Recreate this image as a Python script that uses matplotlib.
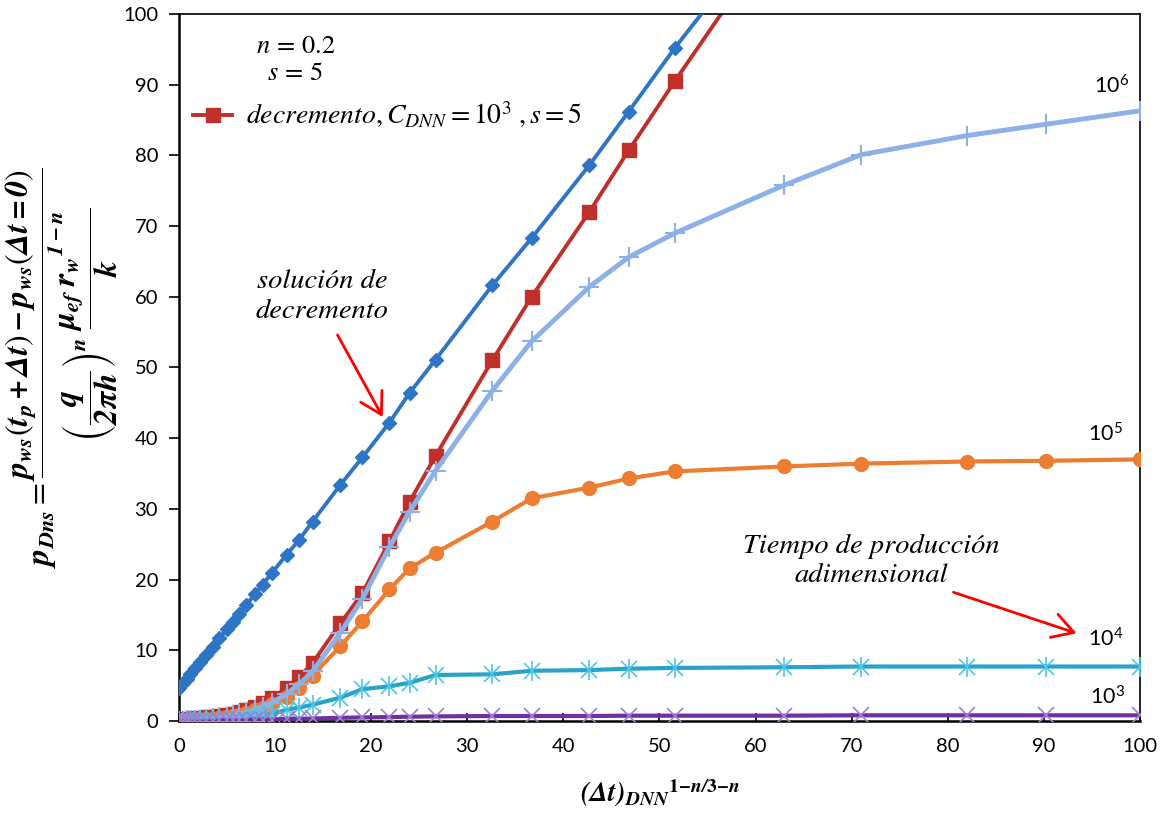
import numpy as np
import matplotlib
matplotlib.use("Agg")
import matplotlib.pyplot as plt
from matplotlib.lines import Line2D

plt.rcParams['mathtext.fontset'] = 'stix'
plt.rcParams['font.family'] = ['Lato', 'DejaVu Sans']

# dimensionless shut-in time axis
dt = [0, 0.4, 0.8, 1.2, 1.7, 2.2, 2.8, 3.5, 4.2, 5.0, 5.6, 6.3, 7.0, 7.9, 8.7, 9.7,
      11.2, 12.5, 13.9, 16.8, 19.1, 21.9, 24.0, 26.7, 32.6, 36.7, 42.7, 46.8, 51.6,
      63.0, 71.0, 82.0, 90.2, 100]

# drawdown solution
p_draw = [4.6, 5.3, 6.0, 6.6, 7.5, 8.3, 9.3, 10.5, 11.7, 13.0, 14.0, 15.2, 16.4, 17.9,
          19.3, 21.0, 23.5, 25.6, 28.2, 33.4, 37.3, 42.2, 46.4, 51.1, 61.6, 68.3, 78.6,
          86.2, 95.2, 115.0, 129.0, 148.0, 162.0, 179.0]
# drawdown, C_DNN = 1e3, s = 5
p_red = [0.1, 0.2, 0.3, 0.3, 0.4, 0.4, 0.5, 0.6, 0.7, 0.9, 1.0, 1.3, 1.6, 2.0, 2.5, 3.2,
         4.7, 6.2, 8.2, 13.8, 18.1, 25.4, 31.0, 37.5, 51.0, 60.0, 72.0, 80.7, 90.5,
         113.0, 128.0, 148.0, 163.0, 181.0]
# buildup for several producing times
p_1e6 = [0.0, 0.0, 0.1, 0.1, 0.2, 0.2, 0.3, 0.4, 0.5, 0.6, 0.8, 1.0, 1.2, 1.6, 2.0, 2.6,
         3.8, 5.2, 7.0, 12.5, 17.3, 24.6, 29.6, 35.4, 46.7, 53.7, 61.4, 65.6, 69.0,
         75.8, 80.1, 82.8, 84.4, 86.3]
p_1e5 = [0.0, 0.1, 0.1, 0.1, 0.2, 0.2, 0.3, 0.3, 0.4, 0.6, 0.7, 0.9, 1.1, 1.5, 1.9, 2.4,
         3.4, 4.7, 6.4, 10.6, 14.1, 18.6, 21.6, 23.8, 28.2, 31.5, 33.0, 34.3, 35.3,
         36.0, 36.4, 36.7, 36.8, 37.0]
p_1e4 = [0.0, 0.0, 0.0, 0.0, 0.0, 0.1, 0.1, 0.1, 0.1, 0.2, 0.2, 0.3, 0.4, 0.5, 0.7, 1.0,
         1.6, 1.9, 2.3, 3.3, 4.5, 4.9, 5.4, 6.5, 6.6, 7.1, 7.2, 7.4, 7.5,
         7.6, 7.7, 7.7, 7.7, 7.7]
p_1e3 = [0.0, 0.0, 0.0, 0.0, 0.0, 0.0, 0.0, 0.0, 0.1, 0.1, 0.1, 0.1, 0.1, 0.2, 0.2, 0.2,
         0.3, 0.3, 0.35, 0.45, 0.5, 0.55, 0.6, 0.65, 0.7, 0.7, 0.7, 0.75, 0.75,
         0.75, 0.8, 0.8, 0.8, 0.8]

fig = plt.figure(figsize=(11.65, 8.13), dpi=100)
ax = fig.add_axes([0.1536, 0.1132, 0.8249, 0.8696])

ax.plot(dt, p_red, color='#C0302B', lw=2.8, marker='s', ms=10, zorder=2)
ax.plot(dt, p_1e5, color='#ED7D31', lw=3, marker='o', ms=10, zorder=3)
ax.plot(dt, p_1e6, color='#8DB0E6', lw=3.5, marker='+', ms=14, mew=1.5, zorder=4)
ax.plot(dt, p_1e4, color='#2AA3C8', lw=3, marker='x', ms=11, mew=1.2, mec='#4CC6E6', zorder=5)
ax.plot(dt, p_1e4, ls='none', marker='|', ms=14, mew=1.2, mec='#4CC6E6', zorder=5)
ax.plot(dt, p_1e3, color='#7030A0', lw=3, marker='x', ms=12, mew=1.2, mec='#A07FD6', zorder=6)
ax.plot(dt, p_draw, color='#2E75C6', lw=2.8, marker='D', ms=7.5, zorder=7)

ax.set_xlim(0, 100)
ax.set_ylim(0, 100)
ax.set_xticks(np.arange(0, 101, 10))
ax.set_yticks(np.arange(0, 101, 10))
ax.tick_params(axis='y', direction='out', length=7, width=1.2, labelsize=14.5, pad=8)
ax.tick_params(axis='x', direction='in', length=6, width=1.2, labelsize=14.5, pad=12)
for side in ['left', 'bottom']:
    ax.spines[side].set_linewidth(1.8)
for side in ['top', 'right']:
    ax.spines[side].set_linewidth(1.2)

ax.set_xlabel(r'$\mathbfit{(\Delta t)_{DNN}}^{\mathbf{1}\mathbfit{-n/}\mathbf{3}\mathbfit{-n}}$',
              fontsize=20, labelpad=16)
ax.set_ylabel(r'$\mathbfit{p_{Dns}} = \dfrac{\mathbfit{p_{ws}\left(t_p+\Delta t\right)-p_{ws}\left(\Delta t=0\right)}}'
              r'{\left(\dfrac{\mathbfit{q}}{\mathbfit{2\pi h}}\right)^{\mathbfit{n}}\ \dfrac{\mathbfit{\mu_{ef}\ {r_w}^{1-n}}}{\mathbfit{k}}}$',
              fontsize=23, labelpad=2)

ax.text(0.08, 0.956, r'$n\,=\,0.2$', transform=ax.transAxes, ha='left', va='center', fontsize=19)
ax.text(0.092, 0.917, r'$s\,=\,5$', transform=ax.transAxes, ha='left', va='center', fontsize=19)

handle = Line2D([], [], color='#C0302B', lw=2.8, marker='s', ms=10)
ax.legend([handle], [r'$decremento, C_{DNN} = 10^3\ ,s = 5$'], loc='center left',
          bbox_to_anchor=(-0.011, 0.857), frameon=False, fontsize=20,
          handlelength=1.4, handletextpad=0.5)

ax.text(14.9, 60.0, 'solución de\ndecremento', fontsize=20.5, family='STIXGeneral',
        style='italic', ha='center', va='center', linespacing=1.25)
ax.annotate('', xy=(21.2, 43.0), xytext=(16.5, 54.6),
            arrowprops=dict(arrowstyle='->, head_length=0.6, head_width=0.35', color='red',
                            lw=2, mutation_scale=25, shrinkA=0, shrinkB=0))
ax.text(72.0, 22.6, 'Tiempo de producción\nadimensional', fontsize=20.5, family='STIXGeneral',
        style='italic', ha='center', va='center', linespacing=1.25)
ax.annotate('', xy=(93.4, 12.4), xytext=(80.6, 18.2),
            arrowprops=dict(arrowstyle='->, head_length=0.6, head_width=0.35', color='red',
                            lw=2, mutation_scale=25, shrinkA=0, shrinkB=0))

for x, y, lab in [(95.2, 89.8, r'$\mathregular{10^6}$'), (94.6, 40.6, r'$\mathregular{10^5}$'),
                  (94.6, 11.6, r'$\mathregular{10^4}$'), (94.8, 3.4, r'$\mathregular{10^3}$')]:
    ax.text(x, y, lab, ha='left', va='center', fontsize=15.5)

fig.savefig('out.png', dpi=100)
